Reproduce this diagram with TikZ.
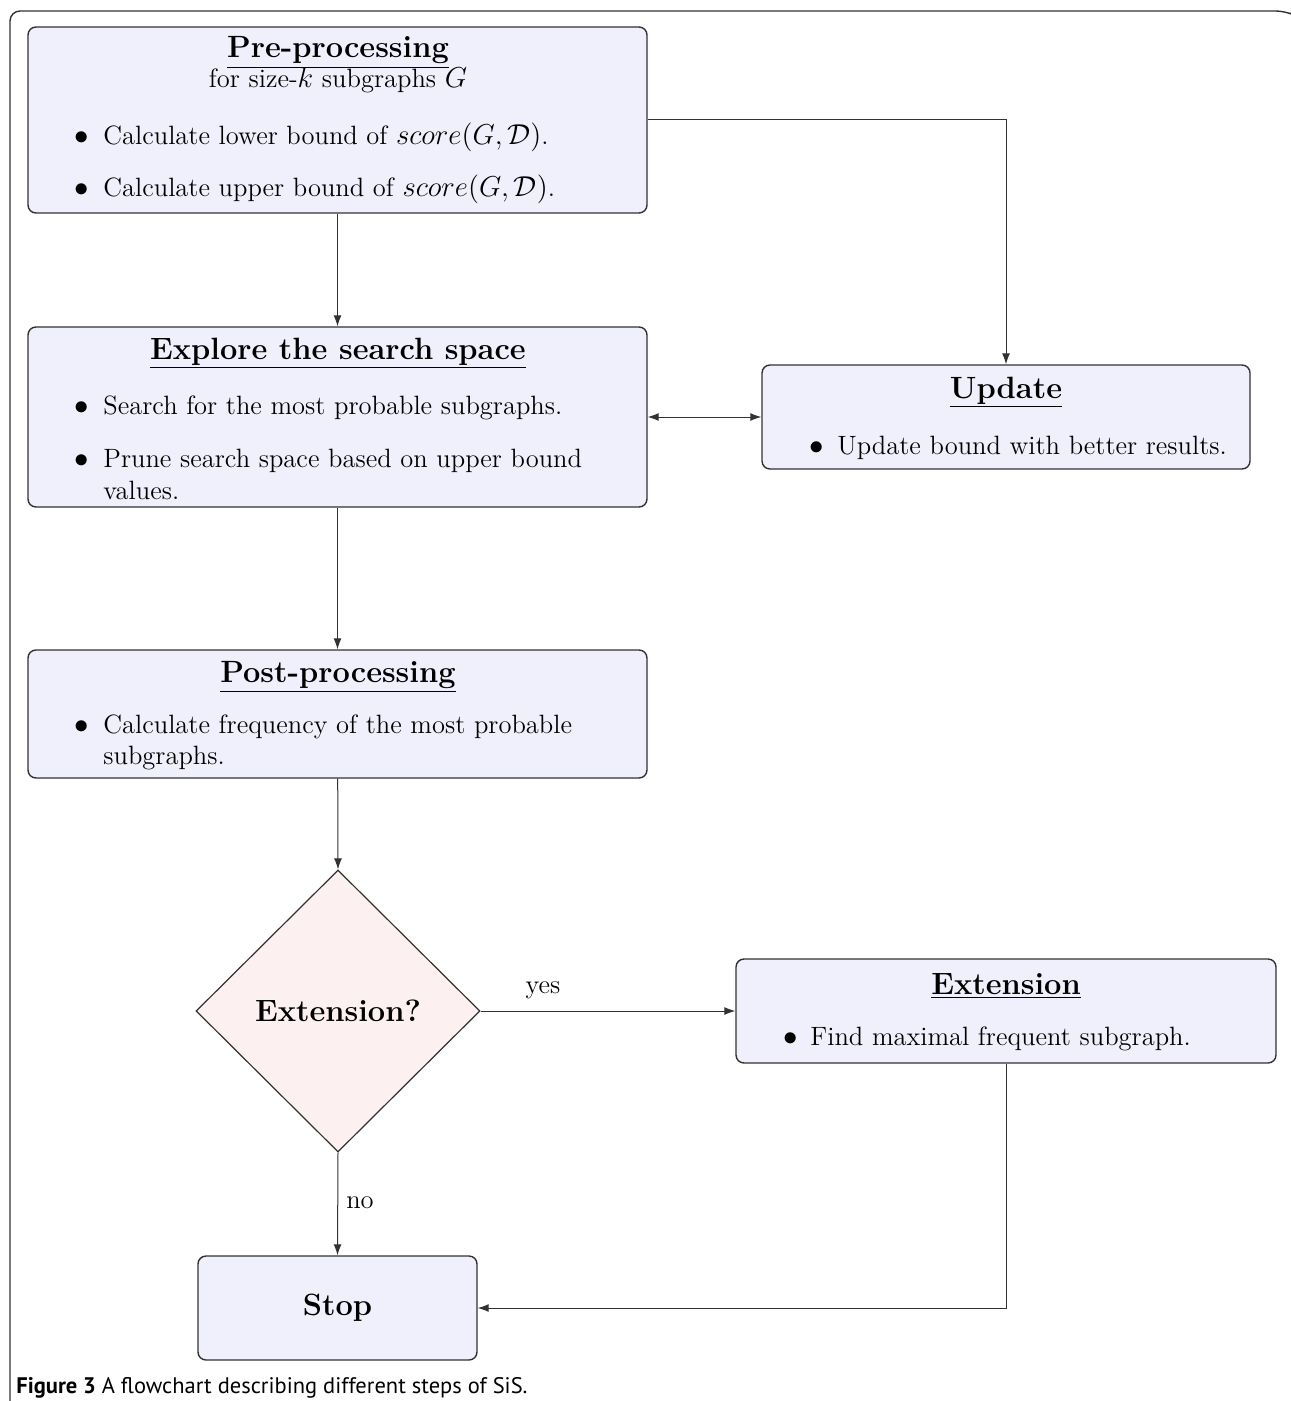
\documentclass[tikz,border=0pt]{standalone}
\usepackage{fontspec}
\setsansfont{PT Sans}
\usetikzlibrary{shapes.geometric,arrows.meta}

\definecolor{boxfill}{RGB}{240,240,252}
\definecolor{decfill}{RGB}{252,240,240}
\definecolor{edge}{RGB}{50,50,50}

\tikzset{
  box/.style={rectangle, rounded corners=4pt, draw=edge, line width=0.7pt, fill=boxfill, inner sep=0pt},
  decision/.style={diamond, draw=edge, line width=0.6pt, fill=decfill, inner sep=0pt, aspect=1},
  title/.style={anchor=base, inner sep=0pt, font=\fontsize{15.4}{18}\selectfont\bfseries},
  txt/.style={anchor=base west, inner sep=0pt, font=\fontsize{13.25}{16}\selectfont},
  bul/.style={anchor=base, inner sep=0pt, font=\fontsize{13.25}{16}\selectfont},
  lbl/.style={inner sep=0pt, font=\fontsize{13.25}{16}\selectfont},
  arrow/.style={-{Latex[length=5.5pt,width=4pt]}, line width=0.5pt, draw=edge},
}

\begin{document}
\begin{tikzpicture}[x=0.5pt,y=-0.5pt]
  \useasboundingbox (0,0) rectangle (1290,1401);
  % frame of the figure
  \draw[edge, line width=0.7pt, rounded corners=5pt] (10,1401) -- (10,11) -- (1286,11) -- (1290,13);

  % boxes
  \node[box, minimum width=309.5pt, minimum height=93pt] (pre) at (337.5,120) {};
  \node[box, minimum width=309.5pt, minimum height=90pt] (explore) at (337.5,417) {};
  \node[box, minimum width=244pt, minimum height=52pt] (update) at (1006,417) {};
  \node[box, minimum width=309.5pt, minimum height=64pt] (post) at (337.5,714) {};
  \node[decision, minimum width=142pt, minimum height=141pt] (ext) at (338,1011) {};
  \node[box, minimum width=270pt, minimum height=52pt] (extension) at (1006,1011) {};
  \node[box, minimum width=139.5pt, minimum height=52pt] (stop) at (337.5,1308) {};

  % pre-processing text
  \node[title] (pretitle) at (338,58) {\underline{Pre-processing}};
  \node[bul] (presub) at (338,88) {for size-$k$ subgraphs $G$};
  \node[bul] (prebul1) at (82,145) {$\bullet$};
  \node[txt] (pretxt1) at (103,145) {Calculate lower bound of $score(G,\mathcal{D})$.};
  \node[bul] (prebul2) at (82,197) {$\bullet$};
  \node[txt] (pretxt2) at (103,197) {Calculate upper bound of $score(G,\mathcal{D})$.};

  % explore text
  \node[title] (exptitle) at (338,359) {\underline{Explore the search space}};
  \node[bul] (expbul1) at (82,414) {$\bullet$};
  \node[txt] (exptxt1) at (103,414) {Search for the most probable subgraphs.};
  \node[bul] (expbul2) at (82,467) {$\bullet$};
  \node[txt] (exptxt2) at (103,467) {Prune search space based on upper bound};
  \node[txt] (exptxt3) at (103,499) {values.};

  % update text
  \node[title] (updtitle) at (1006,398) {\underline{Update}};
  \node[bul] (updbul) at (817,454) {$\bullet$};
  \node[txt] (updtxt) at (837,454) {Update bound with better results.};

  % post-processing text
  \node[title] (posttitle) at (338,682) {\underline{Post-processing}};
  \node[bul] (postbul) at (82,733) {$\bullet$};
  \node[txt] (posttxt1) at (103,733) {Calculate frequency of the most probable};
  \node[txt] (posttxt2) at (103,764) {subgraphs.};

  % decision and extension text
  \node[title, anchor=center] (exttxt) at (ext.center) {Extension?};
  \node[title] (extntitle) at (1006,994) {\underline{Extension}};
  \node[bul] (extnbul) at (791,1045) {$\bullet$};
  \node[txt] (extntxt) at (810,1045) {Find maximal frequent subgraph.};
  \node[title, anchor=center] (stoptxt) at (stop.center) {Stop};

  % connectors
  \draw[arrow] (pre) -- (explore);
  \draw[arrow] (pre.east) -| (update.north);
  \draw[arrow, {Latex[length=5.5pt,width=4pt]}-{Latex[length=5.5pt,width=4pt]}] (explore.east) -- (update.west);
  \draw[arrow] (explore) -- (post);
  \draw[arrow] (post) -- (ext.north);
  \draw[arrow] (ext.east) -- (extension.west);
  \draw[arrow] (ext.south) -- (stop.north);
  \draw[arrow] (extension.south) |- (stop.east);
  \node[lbl] (yes) at (543,990) {yes};
  \node[lbl] (no) at (360,1203) {no};

  % caption
  \node[anchor=base west, inner sep=0pt, font=\sffamily\fontsize{11.25}{14}\selectfont] (caption) at (16,1393)
    {\textbf{Figure 3} A flowchart describing different steps of SiS.};
\end{tikzpicture}
\end{document}
